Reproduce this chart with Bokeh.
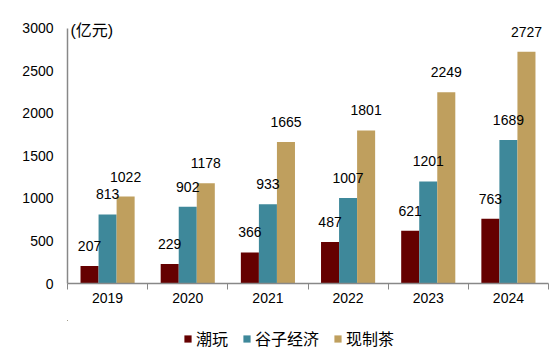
from bokeh.plotting import figure
from bokeh.layouts import column
from bokeh.models import ColumnDataSource, LabelSet, Label, FixedTicker, Legend, LegendItem
from bokeh.core.properties import value
from bokeh.transform import dodge
from bokeh.embed import file_html
from bokeh.resources import INLINE

years = ["2019", "2020", "2021", "2022", "2023", "2024"]
chaowan = [207, 229, 366, 487, 621, 763]
guzi = [813, 902, 933, 1007, 1201, 1689]
xianzhicha = [1022, 1178, 1665, 1801, 2249, 2727]
series_names = ["潮玩", "谷子经济", "现制茶"]
colors = ["#650000", "#3E889A", "#BF9F5E"]
y_ticks = [0, 500, 1000, 1500, 2000, 2500, 3000]

xs = list(range(len(years)))
src = ColumnDataSource(dict(x=xs, a=chaowan, b=guzi, c=xianzhicha,
                            la=[str(v) for v in chaowan],
                            lb=[str(v) for v in guzi],
                            lc=[str(v) for v in xianzhicha]))

p = figure(width=550, height=320, output_backend="svg", toolbar_location=None,
           x_range=(-0.5, len(years) - 0.5), y_range=(0, 3270),
           min_border_left=67, min_border_right=2, min_border_top=5, min_border_bottom=37)
p.outline_line_color = None
p.grid.grid_line_color = None

FONT = "Liberation Sans, Noto Sans CJK SC"
bw = 0.225
keys = ["a", "b", "c"]
for key, lab, off, col in zip(keys, ["la", "lb", "lc"], [-bw, 0, bw], colors):
    p.vbar(x=dodge("x", off), top=key, width=bw, source=src, fill_color=col,
           line_color=None)
    p.add_layout(LabelSet(x=dodge("x", off), y=key, text=lab, source=src,
                          text_align="center", text_baseline="middle", y_offset=20,
                          text_font=value("Liberation Sans"), text_font_size=value("14px"),
                          text_color="#000000"))

# x axis
p.xaxis.ticker = FixedTicker(ticks=xs, minor_ticks=[i - 0.5 for i in range(len(years) + 1)])
p.xaxis.major_label_overrides = {i: y for i, y in enumerate(years)}
p.xaxis.major_tick_line_color = None
p.xaxis.major_tick_out = 0
p.xaxis.major_tick_in = 0
p.xaxis.minor_tick_line_color = "#888888"
p.xaxis.minor_tick_out = 6
p.xaxis.minor_tick_in = 0
p.xaxis.axis_line_color = "#888888"
p.xaxis.axis_line_width = 1.5
p.xaxis.major_label_text_font = FONT
p.xaxis.major_label_text_font_size = "14px"
p.xaxis.major_label_text_color = "#000000"
p.xaxis.major_label_standoff = 3

# y axis
p.yaxis.ticker = FixedTicker(ticks=y_ticks)
p.yaxis.bounds = (0, 3000)
p.yaxis.major_tick_line_color = None
p.yaxis.major_tick_out = 0
p.yaxis.major_tick_in = 0
p.yaxis.minor_tick_line_color = None
p.yaxis.axis_line_color = "#888888"
p.yaxis.axis_line_width = 1.5
p.yaxis.major_label_text_font = FONT
p.yaxis.major_label_text_font_size = "14px"
p.yaxis.major_label_text_color = "#000000"
p.yaxis.major_label_standoff = 14

p.add_layout(Label(x=-0.5, y=3000, text="(亿元)", x_offset=3, y_offset=-2,
                   text_baseline="middle", text_font=FONT, text_font_size="16px",
                   text_color="#000000"))

# legend strip (separate figure so the legend is not clipped); its bars lie outside its view
lf = figure(width=550, height=36, output_backend="svg", toolbar_location=None,
            x_range=(100, 101), y_range=(-10, -5), min_border=0)
lf.axis.visible = False
lf.grid.grid_line_color = None
lf.outline_line_color = None
lrs = [lf.vbar(x="x", top=k, width=0.1, source=src, fill_color=c, line_color=None)
       for k, c in zip(keys, colors)]
legend = Legend(items=[LegendItem(label=n, renderers=[r]) for n, r in zip(series_names, lrs)],
                orientation="horizontal", location=(116, 6),
                label_text_font=FONT, label_text_font_size="16px", label_text_color="#000000",
                glyph_width=9, glyph_height=9, label_standoff=4, spacing=14,
                border_line_color=None, background_fill_alpha=0,
                padding=2, margin=0)
lf.add_layout(legend, "center")

open("out.html", "w").write(file_html(column(p, lf, spacing=0), INLINE))
